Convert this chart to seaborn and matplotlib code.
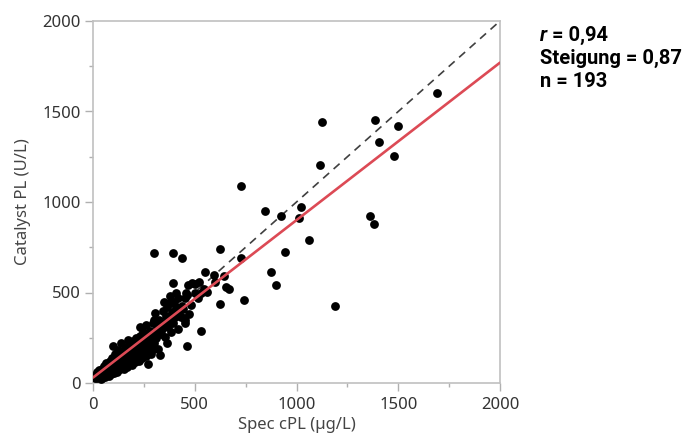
import numpy as np
import pandas as pd
import matplotlib
matplotlib.use("Agg")
import matplotlib.pyplot as plt
import seaborn as sns

# scatter values (Spec cPL, Catalyst PL)
spec_outer = [1690, 1124, 1384, 1498, 1407, 1481, 1117, 1022, 1011, 923,
              1060, 943, 1361, 1381, 900, 1190, 874, 726, 843, 622,
              726, 298, 393, 436, 548, 593, 644, 652, 668, 741,
              626, 532, 395, 407, 469, 485, 502, 519, 459, 500,
              533, 453, 464, 543, 461, 438, 454, 454, 430,
              480, 515, 560, 600, 420, 350, 380, 470]
cat_outer = [1603, 1444, 1451, 1422, 1330, 1254, 1203, 974, 910, 924,
             792, 722, 924, 878, 543, 424, 615, 1086, 948, 739,
             692, 716, 720, 689, 612, 597, 591, 532, 517, 459,
             436, 287, 554, 495, 540, 555, 545, 558, 500, 497,
             500, 468, 486, 520, 204, 425, 348, 331, 366,
             430, 470, 505, 560, 470, 450, 480, 380]

spec_cluster = [10, 15, 20, 22, 25, 30, 30, 35, 38, 40, 42, 45, 48, 50, 52, 55, 58,
                60, 62, 65, 68, 70, 72, 75, 78, 80, 82, 85, 88, 90, 92, 95, 98, 99,
                100, 103, 105, 108, 110, 112, 115, 118, 120, 122, 125, 128, 130, 133,
                135, 138, 140, 142, 145, 148, 150, 152, 155, 158, 160, 162, 165, 168,
                170, 173, 175, 178, 180, 183, 185, 188, 189, 192, 195, 198,
                200, 205, 208, 210, 213, 215, 218, 222, 225, 228, 230, 232, 235, 238,
                240, 245, 248, 250, 255, 258, 262, 265, 268, 272, 272, 275, 278, 280,
                285, 288, 290, 295, 298, 300,
                305, 308, 312, 315, 320, 325, 329, 332, 338, 342, 348, 354, 358, 362,
                365, 370, 375, 380, 385, 390, 395, 400, 405, 410, 418, 425, 440, 445]
cat_cluster = [30, 45, 25, 60, 40, 35, 70, 55, 20, 45, 80, 30, 60, 40, 95, 50, 70,
               35, 110, 55, 80, 45, 65, 100, 40, 75, 120, 60, 90, 50, 140, 80, 65, 204,
               110, 55, 130, 85, 160, 70, 100, 125, 60, 180, 90, 145, 110, 75,
               165, 130, 219, 95, 150, 120, 185, 80, 140, 105, 200, 160, 125, 90,
               175, 238, 140, 110, 210, 155, 125, 190, 182, 100, 160, 230,
               140, 200, 115, 175, 250, 150, 215, 164, 120, 190, 260, 310, 170, 230,
               140, 205, 280, 180, 240, 150, 320, 210, 260, 238, 103, 185, 290, 225,
               160, 182, 260, 330, 348, 220,
               387, 280, 250, 310, 190, 350, 155, 270, 300, 400, 330, 256, 370, 219,
               420, 310, 350, 440, 280, 395, 330, 447, 365, 420, 300, 390, 410, 360]

slope = 0.87
intercept = 30
line_x = [0, 2000]
stats_lines = ["r", " = 0,94", "Steigung = 0,87", "n = 193"]

df = pd.DataFrame({
    "spec": spec_outer + spec_cluster,
    "cat": cat_outer + cat_cluster,
})
fit = pd.DataFrame({"x": line_x, "y": [intercept + slope * v for v in line_x]})
ident = pd.DataFrame({"x": line_x, "y": line_x})

sns.set_theme(style="white")
plt.rcParams["font.family"] = ["Noto Sans", "DejaVu Sans"]

fig = plt.figure(figsize=(6.91, 4.44), dpi=100)
ax = fig.add_axes([93 / 691, 61 / 444, 407 / 691, 362 / 444])

sns.lineplot(data=ident, x="x", y="y", ax=ax, color="#404040", lw=1.2,
             linestyle=(0, (4.8, 3.6)), zorder=2)
sns.scatterplot(data=df, x="spec", y="cat", ax=ax, color="black", s=40,
                linewidth=0, zorder=3)
sns.lineplot(data=fit, x="x", y="y", ax=ax, color="#dc4a55", lw=1.9, zorder=4)

ax.set_xlim(0, 2000)
ax.set_ylim(0, 2000)
ax.set_xticks([0, 500, 1000, 1500, 2000])
ax.set_yticks([0, 500, 1000, 1500, 2000])
ax.set_xticks([250, 750, 1250, 1750], minor=True)
ax.set_yticks([250, 750, 1250, 1750], minor=True)
ax.tick_params(which="major", length=6, width=1, color="#b0b0b0",
               labelsize=12, labelcolor="#333333", direction="out",
               bottom=True, left=True)
ax.tick_params(which="minor", length=3, width=1, color="#b0b0b0",
               direction="out", bottom=True, left=True)
ax.tick_params(axis="x", pad=4)
ax.tick_params(axis="y", pad=3)
for sp in ax.spines.values():
    sp.set_color("#c0c0c0")
    sp.set_linewidth(1.2)

ax.set_xlabel("Spec cPL (µg/L)", fontsize=12, color="#444444", labelpad=3)
ax.set_ylabel("Catalyst PL (U/L)", fontsize=12, color="#444444", labelpad=8)

txt_kw = dict(fontsize=14.5, color="black", family="Roboto", weight="bold")
t_r = fig.text(540 / 691, 1 - 41 / 444, stats_lines[0], style="italic",
               va="baseline", **txt_kw)
ax.annotate(stats_lines[1], xy=(1, 0), xycoords=t_r, ha="left", va="bottom",
            annotation_clip=False, **txt_kw)
fig.text(540 / 691, 1 - 64 / 444, stats_lines[2], va="baseline", **txt_kw)
fig.text(540 / 691, 1 - 87 / 444, stats_lines[3], va="baseline", **txt_kw)

fig.savefig("out.png", dpi=100)
